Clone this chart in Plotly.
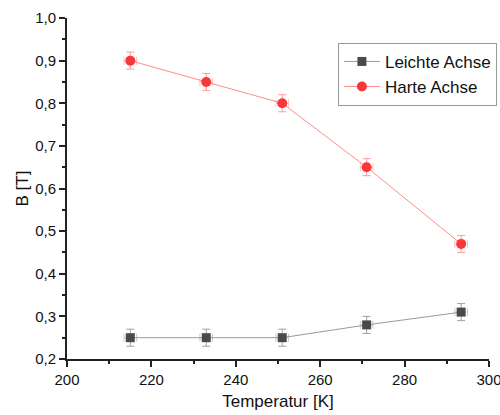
import plotly.graph_objects as go

temperature = [215, 233, 251, 271, 293.4]
leichte = [0.25, 0.25, 0.25, 0.28, 0.31]
harte = [0.90, 0.85, 0.80, 0.65, 0.47]
y_err = [0.02, 0.02, 0.02, 0.02, 0.02]
x_err = [1.5, 1.5, 1.5, 1.5, 1.5]

fig = go.Figure()
fig.add_trace(go.Scatter(
    x=temperature, y=leichte, name="Leichte Achse", mode="lines+markers",
    line=dict(color="#9a9a9a", width=1),
    marker=dict(symbol="square", size=9, color="#4a4a4a"),
    error_y=dict(type="data", array=y_err, color="#a0a0a0", thickness=1, width=4),
    error_x=dict(type="data", array=x_err, color="#c8c8c8", thickness=1, width=4),
))
fig.add_trace(go.Scatter(
    x=temperature, y=harte, name="Harte Achse", mode="lines+markers",
    line=dict(color="#ff8c8c", width=1),
    marker=dict(symbol="circle", size=10, color="#f83838"),
    error_y=dict(type="data", array=y_err, color="#ff9a9a", thickness=1, width=4),
    error_x=dict(type="data", array=x_err, color="#ffc0c0", thickness=1, width=4),
))

axis_common = dict(
    showline=True, linecolor="#222", linewidth=2, ticks="outside", ticklen=6,
    tickwidth=1.5, tickcolor="#222", showgrid=False, zeroline=False, mirror=False,
    automargin=False, ticklabeloverflow="allow",
    tickfont=dict(family="Liberation Sans, Arial", size=15, color="#111"),
)
fig.update_layout(
    width=500, height=415, separators=", ",
    margin=dict(l=67, r=11, t=18, b=56, autoexpand=False),
    plot_bgcolor="white", paper_bgcolor="white",
    font=dict(family="Liberation Sans, Arial", color="#111"),
    xaxis=dict(range=[200, 300], dtick=20, tick0=200,
               title=dict(text="Temperatur [K]", font=dict(size=17), standoff=8),
               minor=dict(dtick=10, ticks="outside", ticklen=3, tickcolor="#222"),
               **axis_common),
    yaxis=dict(range=[0.2, 1.0], dtick=0.1, tick0=0.2, tickformat=".1f",
               title=dict(text="B [T]", font=dict(size=17), standoff=2),
               minor=dict(dtick=0.05, ticks="outside", ticklen=3, tickcolor="#222"),
               **axis_common),
    legend=dict(x=0.642, y=0.927, xanchor="left", yanchor="top",
                bordercolor="#999", borderwidth=1, bgcolor="white",
                font=dict(size=17, family="Liberation Sans, Arial"),
                tracegroupgap=0, itemwidth=36),
    showlegend=True,
)
fig.write_html("out.html")
